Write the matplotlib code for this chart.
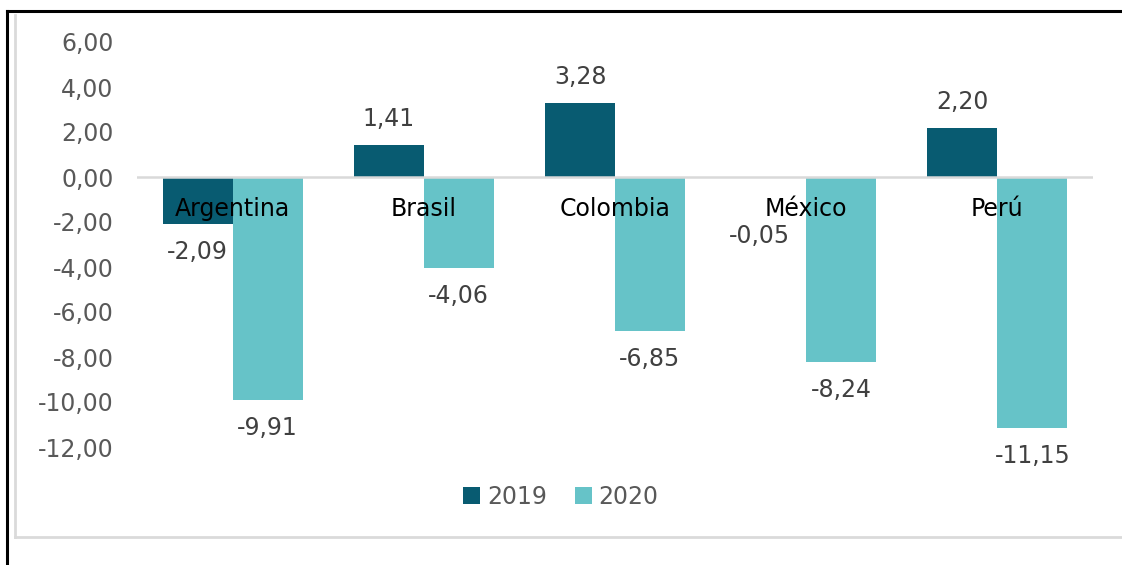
import matplotlib.pyplot as plt
from matplotlib.lines import Line2D
from matplotlib.ticker import FuncFormatter
import numpy as np

# Chart data
countries = ["Argentina", "Brasil", "Colombia", "México", "Perú"]
values_2019 = [-2.09, 1.41, 3.28, -0.05, 2.20]
values_2020 = [-9.91, -4.06, -6.85, -8.24, -11.15]
y_ticks = [6, 4, 2, 0, -2, -4, -6, -8, -10, -12]

dark = "#085B71"
light = "#66C3C8"
gray_text = "#595959"
label_text = "#404040"

plt.rcParams["font.family"] = ["DejaVu Sans"]

W, H = 1122, 565
fig = plt.figure(figsize=(W / 100, H / 100), dpi=100)
ax = fig.add_axes([137 / W, 1 - 447 / H, 956 / W, (447 - 42) / H])

x = np.arange(len(countries))
bw = 0.366
b1 = ax.bar(x - bw / 2, values_2019, bw, color=dark, label="2019", zorder=2)
b2 = ax.bar(x + bw / 2, values_2020, bw, color=light, label="2020", zorder=2)

ax.set_xlim(-0.5, len(countries) - 0.5)
ax.set_ylim(-12, 6)
ax.axhline(0, color="#D9D9D9", lw=1.8, zorder=3)

ax.set_yticks(y_ticks)
ax.yaxis.set_major_formatter(FuncFormatter(lambda v, p: f"{v:.2f}".replace(".", ",")))
ax.tick_params(axis="y", length=0, pad=17, labelsize=17, labelcolor=gray_text)
ax.set_xticks([])
for s in ax.spines.values():
    s.set_visible(False)
ax.patch.set_alpha(0)

# category names just under the zero line
for i, name in enumerate(countries):
    ax.annotate(name, (i, 0), xytext=(0, -32), textcoords="offset pixels",
                ha="center", va="center", fontsize=17, color="black", zorder=5)

# data labels
def fmt(v):
    return f"{v:.2f}".replace(".", ",")

for bars, vals in [(b1, values_2019), (b2, values_2020)]:
    for bar, v in zip(bars, vals):
        cx = bar.get_x() + bar.get_width() / 2
        dx = 0
        if v >= 0:
            off = 26
        elif v > -1:
            off, dx = -58, -12
        else:
            off = -28
        ax.annotate(fmt(v), (cx, v), xytext=(dx, off), textcoords="offset pixels",
                    ha="center", va="center", fontsize=17, color=label_text, zorder=5)

fig.legend(handles=[b1, b2], loc="center", bbox_to_anchor=(0.5, 1 - 497 / H),
           ncol=2, frameon=False, fontsize=17, labelcolor=gray_text,
           handlelength=0.7, handleheight=0.7, handletextpad=0.3, columnspacing=1.2)

# frame lines around the chart
def px_line(x0, y0, x1, y1, color, lw):
    fig.add_artist(Line2D([x0 / W, x1 / W], [1 - y0 / H, 1 - y1 / H],
                          transform=fig.transFigure, color=color, lw=lw))

px_line(15, 15, 15, 537, "#DADADA", 2)
px_line(15, 537, W, 537, "#DADADA", 2)
px_line(7, 11, 7, H, "black", 2.2)
px_line(7, 11, W, 11, "black", 2.2)

fig.savefig("out.png", dpi=100)
